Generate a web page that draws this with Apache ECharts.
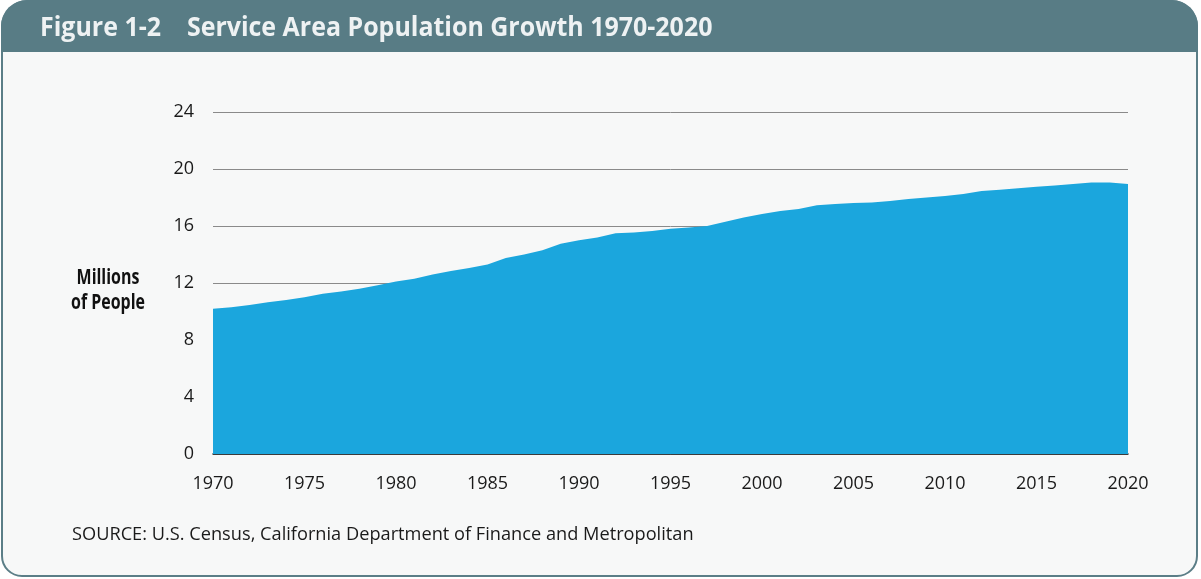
<!DOCTYPE html>
<html>
<head>
<meta charset="utf-8">
<script src="https://cdn.jsdelivr.net/npm/echarts@6/dist/echarts.min.js"></script>
<style>
  html, body { margin: 0; padding: 0; background: #ffffff; }
  #chart { width: 1201px; height: 579px; }
</style>
</head>
<body>
<div id="chart"></div>
<script>
// years on the x axis
var years = [];
for (var y = 1970; y <= 2020; y++) years.push(String(y));

// population, millions of people
var population = [
  10.2, 10.3, 10.45, 10.65, 10.8, 11.0, 11.25, 11.4, 11.6, 11.85,
  12.1, 12.3, 12.6, 12.85, 13.05, 13.3, 13.75, 14.0, 14.3, 14.75,
  15.0, 15.2, 15.5, 15.55, 15.65, 15.8, 15.9, 16.0, 16.3, 16.6,
  16.85, 17.05, 17.2, 17.45, 17.55, 17.62, 17.65, 17.75, 17.9, 18.0,
  18.1, 18.25, 18.45, 18.55, 18.65, 18.75, 18.85, 18.95, 19.05, 19.05,
  18.95
];

var yMin = 0, yMax = 24, yStep = 4;

var titleText = 'Figure 1-2    Service Area Population Growth 1970-2020';
var sourceText = 'SOURCE: U.S. Census, California Department of Finance and Metropolitan';

var chart = echarts.init(document.getElementById('chart'));

var option = {
  animation: false,
  backgroundColor: '#ffffff',
  graphic: [
    {
      // panel with border
      type: 'rect', z: -10,
      shape: { x: 2, y: 1, width: 1195, height: 575, r: [26, 26, 20, 20] },
      style: { fill: '#f7f8f8', stroke: '#5b7e87', lineWidth: 2 }
    },
    {
      // header band
      type: 'rect', z: -9,
      shape: { x: 1, y: 0, width: 1197, height: 52, r: [26, 26, 0, 0] },
      style: { fill: '#587c85' }
    },
    {
      type: 'text', x: 40, y: 29, scaleX: 0.96,
      style: {
        text: titleText, fill: '#eef2f3', font: 'bold 26px "Open Sans"',
        verticalAlign: 'middle'
      }
    },
    {
      type: 'text', x: 72, y: 535, scaleX: 0.958,
      style: {
        text: sourceText, fill: '#1a1a1a', font: '19px "Open Sans"',
        verticalAlign: 'middle'
      }
    },
    {
      type: 'text', x: 108, y: 291, scaleX: 0.76,
      style: {
        text: 'Millions\nof People', fill: '#111', font: 'bold 21px "Open Sans"',
        align: 'center', verticalAlign: 'middle', lineHeight: 25
      }
    }
  ],
  grid: { left: 213, right: 73, top: 112, bottom: 125 },
  xAxis: {
    type: 'category',
    data: years,
    boundaryGap: false,
    axisLine: { lineStyle: { color: '#222', width: 1.5 } },
    axisTick: { show: false },
    axisLabel: {
      interval: 4, color: '#1a1a1a', fontSize: 18, fontFamily: 'Open Sans', margin: 21
    },
    splitLine: { show: false }
  },
  yAxis: {
    type: 'value',
    min: yMin, max: yMax, interval: yStep,
    axisLine: { show: false },
    axisTick: { show: false },
    axisLabel: { color: '#1a1a1a', fontSize: 18, fontFamily: 'Open Sans', margin: 19 },
    splitLine: { lineStyle: { color: '#8a8a8a', width: 1 } }
  },
  series: [{
    type: 'line',
    data: population,
    symbol: 'none',
    lineStyle: { width: 0 },
    areaStyle: { color: '#1ba6dd', opacity: 1 },
    z: 1
  }]
};

chart.setOption(option);
</script>
</body>
</html>
